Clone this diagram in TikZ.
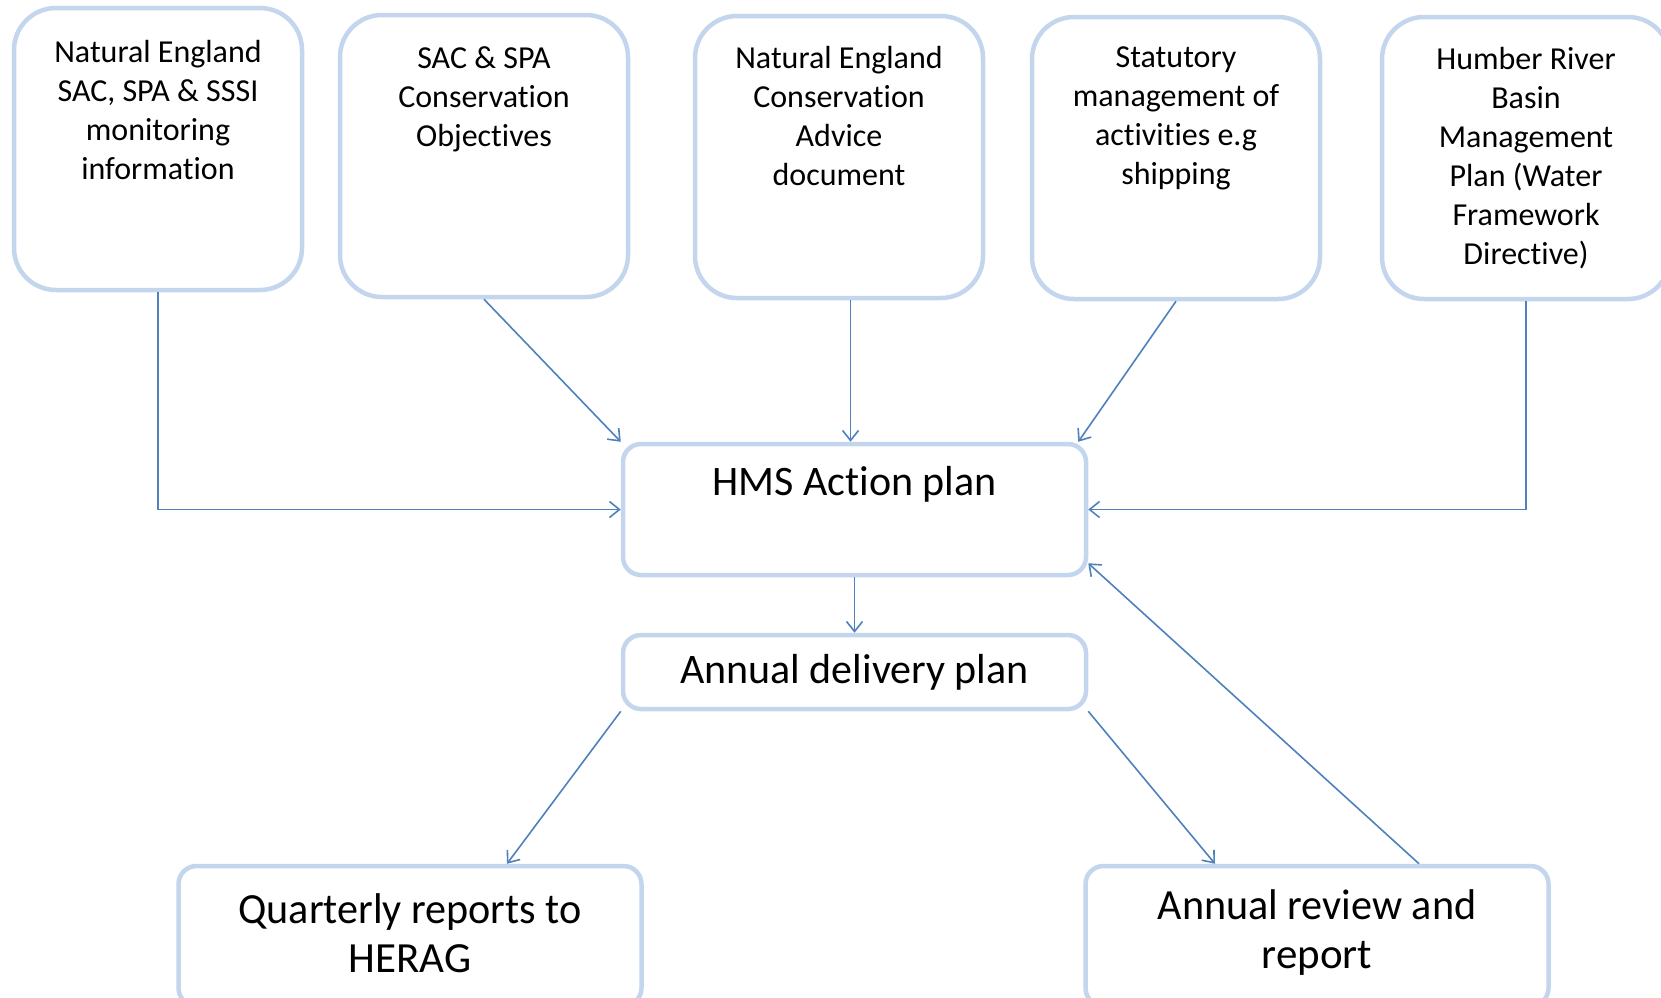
\documentclass[tikz,border=0pt]{standalone}
\usepackage{fontspec}
\setmainfont{Carlito}[Ligatures=NoCommon]
\usetikzlibrary{arrows.meta}
\definecolor{boxblue}{RGB}{195,214,238}
\definecolor{lineblue}{RGB}{79,129,189}
\begin{document}
\begin{tikzpicture}[x=1pt,y=-1pt,
  topbox/.style={draw=boxblue, line width=4.5pt, rounded corners=42pt, minimum width=288pt, minimum height=282pt, fill=white, inner sep=0pt},
  midbox/.style={draw=boxblue, line width=4.5pt, rounded corners=18pt, minimum width=463pt, fill=white, inner sep=0pt},
  botbox/.style={draw=boxblue, line width=4.5pt, rounded corners=18pt, minimum width=463pt, minimum height=140pt, fill=white, inner sep=0pt},
  toptext/.style={anchor=north, align=center, font=\fontsize{32}{39}\selectfont, inner sep=0pt},
  bigtext/.style={align=center, font=\fontsize{42}{49}\selectfont},
  bottext/.style={align=center, font=\fontsize{43}{49}\selectfont},
  conn/.style={draw=lineblue, line width=1.6pt, -{Straight Barb[length=10pt,width=16pt,line width=1.6pt]}}
]
\useasboundingbox (0,0) rectangle (1661,997);
\fill[white] (0,0) rectangle (1661,997);

\node[topbox] (b1) at (158,149) {};
\node[topbox] (b2) at (484,156) {};
\node[topbox] (b3) at (839,157) {};
\node[topbox] (b4) at (1176,158) {};
\node[topbox] (b5) at (1526,158) {};

\node[toptext] (t1) at (158,40) {Natural England\\SAC, SPA \& SSSI\\monitoring\\information};
\node[toptext] (t2) at (484,46) {SAC \& SPA\\Conservation\\Objectives};
\node[toptext] (t3) at (839,46) {Natural England\\Conservation\\Advice\\document};
\node[toptext] (t4) at (1176,47) {Statutory\\management of\\activities e.g\\shipping};
\node[toptext] (t5) at (1526,47) {Humber River\\Basin\\Management\\Plan (Water\\Framework\\Directive)};

\node[midbox, minimum height=131pt] (hms) at (854.5,509.5) {};
\node[bigtext] (hmst) at (854.5,484) {HMS Action plan};

\node[midbox, minimum height=74pt, font=\fontsize{42}{49}\selectfont] (adp) at (854.5,672) {Annual delivery plan};

\node[botbox] (qr) at (410,936) {};
\node[botbox] (ar) at (1317,936) {};
\node[bottext] (qrt) at (410,933) {\scalebox{0.98}[1]{Quarterly reports to}\\HERAG};
\node[bottext] (art) at (1317,933) {\scalebox{0.98}[1]{Annual review and}\\report};

\draw[conn] (b1.south) |- (hms.west);
\draw[conn] (b5.south) |- (hms.east);
\draw[conn] (b2.south) -- (hms.north west);
\draw[conn] ([xshift=-4pt]hms.north |- b3.south) -- ([xshift=-4pt]hms.north);
\draw[conn] (b4.south) -- ([xshift=-10pt]hms.north east);
\draw[conn] (hms.south) -- (adp.north);
\draw[conn] (adp.south west) -- ([xshift=97pt]qr.north);
\draw[conn] (adp.south east) -- ([xshift=-102pt]ar.north);
\draw[conn] ([xshift=102pt]ar.north) -- ([yshift=14pt]hms.south east);
\end{tikzpicture}
\end{document}
